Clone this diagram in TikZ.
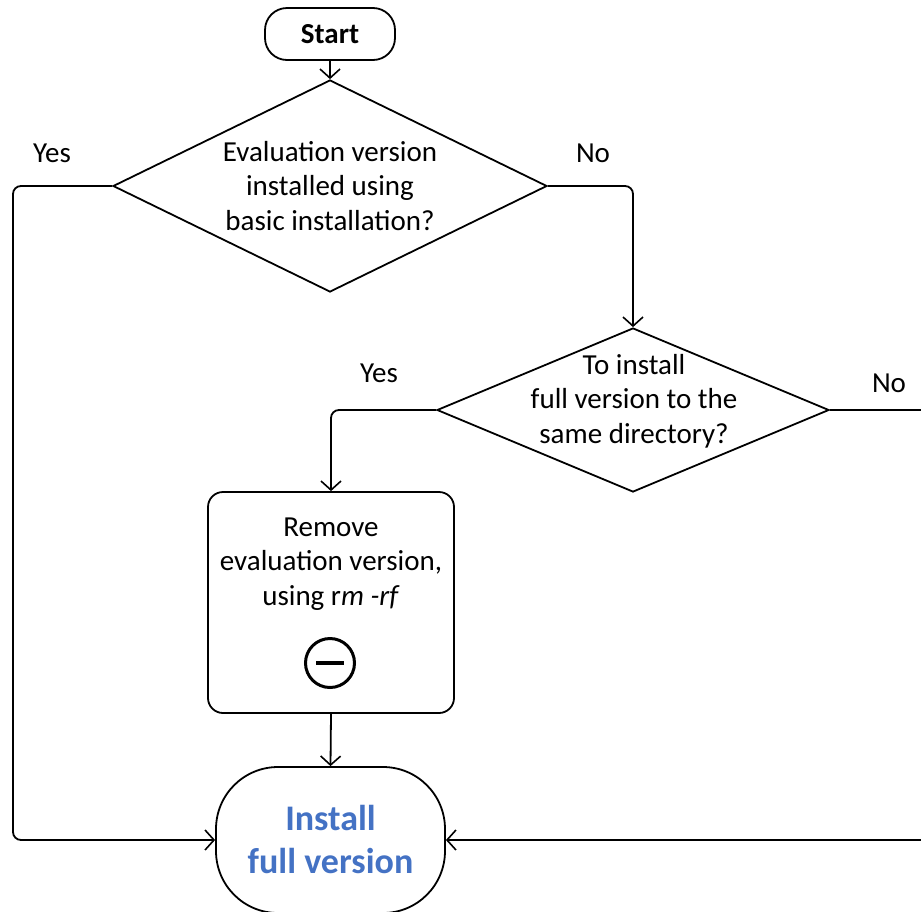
\documentclass[tikz,border=0pt]{standalone}
\usepackage{fontspec}
\setmainfont{Carlito}
\usetikzlibrary{shapes.geometric,arrows.meta}
\definecolor{ttblue}{HTML}{4472C4}
\begin{document}
\begin{tikzpicture}[x=1pt,y=-1pt,
  every node/.style={font=\fontsize{29}{34.5}\selectfont},
  lw/.style={line width=1.8pt},
  flow/.style={lw, rounded corners=8pt, -{Straight Barb[length=9pt,width=20pt,line width=1.6pt]}},
  decbox/.style={draw, lw, shape=diamond, inner sep=0pt},
  txt/.style={align=center, inner sep=0pt},
  startbox/.style={draw, lw, rounded corners=22pt, minimum width=130pt, minimum height=52pt, inner sep=0pt},
  procbox/.style={draw, lw, rounded corners=15pt, minimum width=246pt, minimum height=221pt, inner sep=0pt},
  endbox/.style={draw, lw, rounded corners=62pt, minimum width=229pt, minimum height=146pt, inner sep=0pt},
  lbl/.style={inner sep=0pt}
]
\clip (0,0) rectangle (921,911);
\node[startbox] (start) at (330,34) {\textbf{Start}};
\node[decbox, minimum width=434pt, minimum height=212pt] (d1) at (330,186) {};
\node[txt] (t1) at (330,186) {Evaluation version\\installed using\\basic installation?};
\node[decbox, minimum width=392pt, minimum height=164pt] (d2) at (633,410) {};
\node[txt] (t2) at (634,401) {To install\\full version to the\\same directory?};
\node[procbox] (box) at (331,602.5) {};
\node[txt] (t3) at (331,564) {Remove\\evaluation version,\\using r\textit{m -rf}};
\node[circle, draw, line width=3pt, minimum size=49pt, inner sep=0pt] (icon) at (330,663) {};
\draw[line width=4pt] ([xshift=-14pt]icon.center) -- ([xshift=14pt]icon.center);
\node[endbox] (fin) at (330.5,840) {};
\node[txt, font=\fontsize{36}{43}\selectfont\bfseries, text=ttblue] (t4) at (330.5,839.5) {Install\\full version};
\node[lbl] (y1) at (52,153) {Yes};
\node[lbl] (n1) at (593,153) {No};
\node[lbl] (y2) at (379,373) {Yes};
\node[lbl] (n2) at (889,383) {No};
\coordinate (lc) at (13,840);
\coordinate (rc) at (935,840);
\draw[flow] (start.south) -- (d1.north);
\draw[flow] (d1.west) -| (lc) -- (fin.west);
\draw[flow] (d1.east) -| (d2.north);
\draw[flow] (d2.west) -| (box.north);
\draw[flow] (d2.east) -| (rc) -- (fin.east);
\draw[flow] (box.south) -- (fin.north);
\end{tikzpicture}
\end{document}
